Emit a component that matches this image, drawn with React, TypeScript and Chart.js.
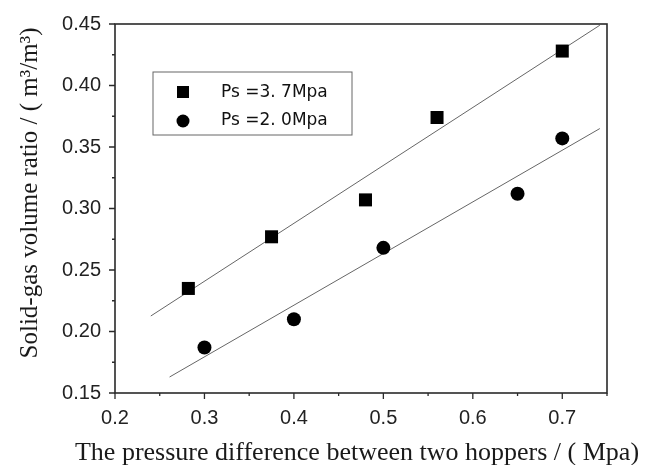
import React, { useEffect, useRef } from "react";
import { Chart, registerables } from "chart.js";

Chart.register(...registerables);

// ---- data ----
const xTicks = [0.2, 0.3, 0.4, 0.5, 0.6, 0.7];
const yTicks = [0.15, 0.2, 0.25, 0.3, 0.35, 0.4, 0.45];
const xMinorTicks = [0.25, 0.35, 0.45, 0.55, 0.65, 0.75];
const yMinorTicks = [0.175, 0.225, 0.275, 0.325, 0.375, 0.425];

const seriesAName = "Ps =3. 7Mpa";
const seriesAX = [0.282, 0.375, 0.48, 0.56, 0.7];
const seriesAY = [0.235, 0.277, 0.307, 0.374, 0.428];

const seriesBName = "Ps =2. 0Mpa";
const seriesBX = [0.3, 0.4, 0.5, 0.65, 0.7];
const seriesBY = [0.187, 0.21, 0.268, 0.312, 0.357];

const fitAX = [0.24, 0.742];
const fitAY = [0.2126, 0.449];
const fitBX = [0.261, 0.742];
const fitBY = [0.163, 0.365];

const xTitle = "The pressure difference between two hoppers / ( Mpa)";
const yTitle = "Solid-gas volume ratio / ( m\u00B3/m\u00B3)";

const zip = (xs: number[], ys: number[]) => xs.map((x, i) => ({ x, y: ys[i] }));

const decorPlugin = {
  id: "decor",
  afterDraw(chart: any) {
    const { ctx, chartArea: a, scales } = chart;
    const xs = scales.x;
    const ys = scales.y;
    ctx.save();
    // frame
    ctx.strokeStyle = "#2a2a2a";
    ctx.lineWidth = 1.6;
    ctx.strokeRect(a.left, a.top, a.right - a.left, a.bottom - a.top);
    // ticks
    ctx.lineWidth = 1.3;
    ctx.beginPath();
    xTicks.forEach((v) => {
      const p = xs.getPixelForValue(v);
      ctx.moveTo(p, a.bottom);
      ctx.lineTo(p, a.bottom + 6);
    });
    xMinorTicks.forEach((v) => {
      const p = xs.getPixelForValue(v);
      ctx.moveTo(p, a.bottom);
      ctx.lineTo(p, a.bottom + 3);
    });
    yTicks.forEach((v) => {
      const p = ys.getPixelForValue(v);
      ctx.moveTo(a.left, p);
      ctx.lineTo(a.left - 6, p);
    });
    yMinorTicks.forEach((v) => {
      const p = ys.getPixelForValue(v);
      ctx.moveTo(a.left, p);
      ctx.lineTo(a.left - 3, p);
    });
    ctx.stroke();

    // legend
    const lx = a.left + 38;
    const ly = a.top + 48;
    ctx.strokeStyle = "#666";
    ctx.lineWidth = 1;
    ctx.strokeRect(lx, ly, 199, 63);
    ctx.fillStyle = "#000";
    ctx.fillRect(lx + 24, ly + 14, 12, 12);
    ctx.beginPath();
    ctx.arc(lx + 30, ly + 49, 6.5, 0, Math.PI * 2);
    ctx.fill();
    ctx.font = "17px 'DejaVu Sans'";
    ctx.textBaseline = "middle";
    ctx.textAlign = "left";
    ctx.fillStyle = "#111";
    ctx.fillText(seriesAName, lx + 68, ly + 21);
    ctx.fillText(seriesBName, lx + 68, ly + 49);

    // axis titles
    ctx.font = "26px 'Liberation Serif'";
    ctx.fillStyle = "#1a1a1a";
    ctx.textAlign = "center";
    ctx.textBaseline = "alphabetic";
    ctx.fillText(xTitle, 357, 460);
    ctx.save();
    ctx.font = "25px 'Liberation Serif'";
    ctx.translate(37, 193);
    ctx.rotate(-Math.PI / 2);
    ctx.fillText(yTitle, 0, 0);
    ctx.restore();
    ctx.restore();
  },
};

export default function App() {
  const ref = useRef<HTMLCanvasElement | null>(null);
  useEffect(() => {
    document.body.style.margin = "0";
    const tickFont = { family: "'Liberation Sans', Arial", size: 20 };
    const chart = new Chart(ref.current as HTMLCanvasElement, {
      type: "scatter",
      data: {
        datasets: [
          {
            label: seriesAName,
            data: zip(seriesAX, seriesAY),
            pointStyle: "rect",
            pointRadius: 9.2,
            backgroundColor: "#000",
            borderColor: "#000",
            borderWidth: 0,
            order: 1,
          },
          {
            label: seriesBName,
            data: zip(seriesBX, seriesBY),
            pointStyle: "circle",
            pointRadius: 7,
            backgroundColor: "#000",
            borderColor: "#000",
            borderWidth: 0,
            order: 1,
          },
          {
            label: "fitA",
            data: zip(fitAX, fitAY),
            showLine: true,
            pointRadius: 0,
            borderColor: "#666",
            borderWidth: 1,
            order: 2,
          },
          {
            label: "fitB",
            data: zip(fitBX, fitBY),
            showLine: true,
            pointRadius: 0,
            borderColor: "#666",
            borderWidth: 1,
            order: 2,
          },
        ],
      } as any,
      options: {
        animation: false,
        responsive: false,
        events: [],
        layout: { padding: { top: 24, right: 43, left: 0, bottom: 0 } },
        plugins: { legend: { display: false }, tooltip: { enabled: false } },
        scales: {
          x: {
            type: "linear",
            min: 0.2,
            max: 0.75,
            afterBuildTicks: (s: any) => {
              s.ticks = xTicks.map((v) => ({ value: v }));
            },
            afterFit: (s: any) => {
              s.height = 72;
            },
            grid: { display: false },
            border: { display: false },
            ticks: {
              font: tickFont,
              color: "#222",
              padding: 5,
              maxRotation: 0,
              callback: (v: any) => Number(v).toFixed(1),
            },
          },
          y: {
            type: "linear",
            min: 0.15,
            max: 0.45,
            afterBuildTicks: (s: any) => {
              s.ticks = yTicks.map((v) => ({ value: v }));
            },
            afterFit: (s: any) => {
              s.width = 115;
            },
            grid: { display: false },
            border: { display: false },
            ticks: {
              font: tickFont,
              color: "#222",
              padding: 6,
              callback: (v: any) => Number(v).toFixed(2),
            },
          },
        },
      } as any,
      plugins: [decorPlugin],
    });
    return () => chart.destroy();
  }, []);
  return (
    <div style={{ width: 650, height: 465 }}>
      <canvas ref={ref} width={650} height={465} style={{ display: "block" }} />
    </div>
  );
}
